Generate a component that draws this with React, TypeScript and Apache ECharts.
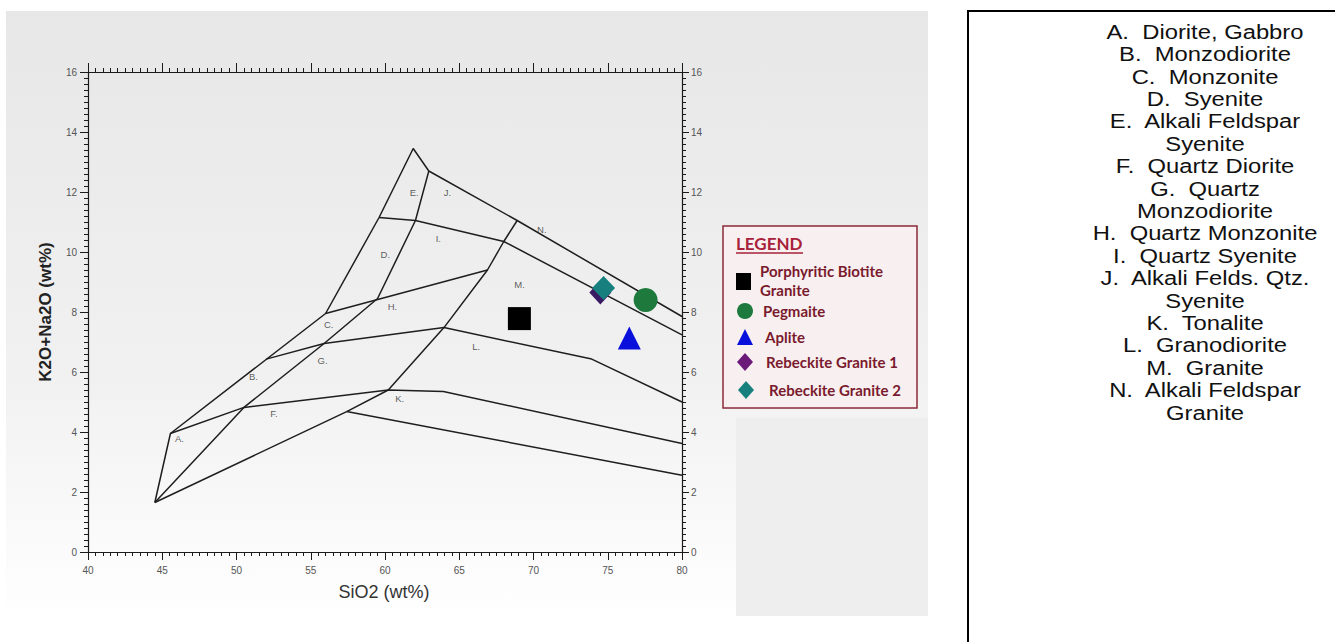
import React, { useEffect, useRef } from "react";
import * as echarts from "echarts";

// ---- Field boundaries (SiO2, K2O+Na2O) ----
const outerBoundary = [[44.5, 1.65], [45.55, 3.95], [56.0, 7.95], [59.6, 11.15], [61.9, 13.45], [62.95, 12.7], [68.9, 11.05], [80, 7.85]];
const dividerQ20 = [[62.95, 12.7], [62.05, 11.05], [59.5, 8.45], [55.9, 6.95], [50.5, 4.82], [44.5, 1.65]];
const dividerQ60 = [[68.9, 11.05], [68.0, 10.35], [66.9, 9.4], [63.97, 7.48], [60.22, 5.4], [57.42, 4.68], [44.5, 1.65]];
const lineDI = [[59.6, 11.15], [62.05, 11.05], [68.0, 10.35], [80, 7.24]];
const lineCH = [[56.0, 7.95], [66.9, 9.4]];
const lineBG = [[52.0, 6.43], [55.9, 6.95], [63.97, 7.48], [73.92, 6.43], [80, 5.0]];
const lineFK = [[45.55, 3.95], [50.5, 4.82], [60.22, 5.4], [63.93, 5.35], [80, 3.62]];
const lineLower = [[57.42, 4.68], [80, 2.56]];
const boundaries = [outerBoundary, dividerQ20, dividerQ60, lineDI, lineCH, lineBG, lineFK, lineLower];

// ---- Field labels ----
const regionNames = ["A.", "B.", "C.", "D.", "E.", "F.", "G.", "H.", "I.", "J.", "K.", "L.", "M.", "N."];
const regionSiO2 = [46.16, 51.14, 56.21, 60.02, 61.97, 52.52, 55.8, 60.5, 63.59, 64.2, 60.99, 66.14, 69.06, 70.56];
const regionAlk = [3.78, 5.86, 7.59, 9.91, 12.0, 4.61, 6.37, 8.18, 10.44, 12.0, 5.11, 6.85, 8.91, 10.75];

// ---- Samples ----
const sampleNames = ["Rebeckite Granite 1", "Porphyritic Biotite Granite", "Pegmaite", "Aplite", "Rebeckite Granite 2"];
const sampleSiO2 = [74.5, 69.05, 77.55, 76.45, 74.72];
const sampleAlk = [8.65, 7.78, 8.4, 7.13, 8.8];
const sampleSymbols = ["diamond", "rect", "circle", "triangle", "diamond"];
const sampleSizes = [[22, 24], 23, 24, 23, [23, 24]];
const sampleColors = ["#3a1a62", "#000000", "#1e7a3c", "#0a10dc", "#17807f"];

// ---- Axis ----
const xMin = 40, xMax = 80, xStep = 5;
const yMin = 0, yMax = 16, yStep = 2;

// ---- Classification text ----
const rockNames = [
  "A.  Diorite, Gabbro", "B.  Monzodiorite", "C.  Monzonite", "D.  Syenite",
  "E.  Alkali Feldspar", "Syenite", "F.  Quartz Diorite", "G.  Quartz", "Monzodiorite",
  "H.  Quartz Monzonite", "I.  Quartz Syenite", "J.  Alkali Felds. Qtz.", "Syenite",
  "K.  Tonalite", "L.  Granodiorite", "M.  Granite", "N.  Alkali Feldspar", "Granite",
];

const legendLabels = ["Porphyritic Biotite", "Granite", "Pegmaite", "Aplite", "Rebeckite Granite 1", "Rebeckite Granite 2"];

export default function App() {
  const ref = useRef<HTMLDivElement>(null);
  useEffect(() => {
    if (!ref.current) return;
    const chart = echarts.init(ref.current, undefined, { renderer: "svg" });
    const axisColor = "#1a1a1a";
    const tickFont = { color: "#555", fontSize: 10, fontFamily: "Liberation Sans, Arial, sans-serif" };
    const xAxisBase = {
      type: "value", min: xMin, max: xMax, interval: xStep,
      axisLine: { show: true, onZero: false, lineStyle: { color: axisColor, width: 1.2 } },
      splitLine: { show: false }, minorSplitLine: { show: false },
    };
    const yAxisBase = {
      type: "value", min: yMin, max: yMax, interval: yStep,
      axisLine: { show: true, onZero: false, lineStyle: { color: axisColor, width: 1.2 } },
      splitLine: { show: false }, minorSplitLine: { show: false },
    };
    const lineSeries = boundaries.map((d, i) => ({
      type: "line", name: "field" + i, data: d, showSymbol: false, symbol: "none",
      lineStyle: { color: "#1e1e1e", width: 1.5 }, silent: true, z: 3,
    }));
    const labelSeries = {
      type: "scatter", name: "fields", symbolSize: 1, silent: true, z: 4,
      itemStyle: { color: "transparent" },
      data: regionNames.map((n, i) => ({ name: n, value: [regionSiO2[i], regionAlk[i]] })),
      label: { show: true, position: "inside", formatter: "{b}", fontSize: 9.5, color: "#333333",
        textBorderWidth: 0, textBorderColor: "transparent", fontFamily: "Liberation Sans, Arial, sans-serif" },
    };
    const sampleSeries = sampleNames.map((n, i) => ({
      type: "scatter", name: n, symbol: sampleSymbols[i], symbolSize: sampleSizes[i], z: 5 + i,
      itemStyle: { color: sampleColors[i], opacity: 1 },
      data: [[sampleSiO2[i], sampleAlk[i]]],
    }));

    const legendFont = { fontFamily: "Lato, Liberation Sans, sans-serif", fontWeight: "bold", fontSize: 15, fill: "#7a1a2e" };
    const legendRows = [
      { t: legendLabels[0], x: 760, y: 271 }, { t: legendLabels[1], x: 760, y: 290 },
      { t: legendLabels[2], x: 763, y: 311 }, { t: legendLabels[3], x: 765, y: 337 },
      { t: legendLabels[4], x: 766, y: 362 }, { t: legendLabels[5], x: 769, y: 390 },
    ];

    const option = {
      animation: false,
      backgroundColor: "#ffffff",
      grid: { left: 88, right: 653, top: 72, bottom: 90, containLabel: false },
      xAxis: [
        { ...xAxisBase, position: "bottom",
          axisTick: { show: true, inside: false, length: 8, lineStyle: { color: axisColor } },
          minorTick: { show: true, splitNumber: 10, length: 4, lineStyle: { color: axisColor } },
          axisLabel: { ...tickFont, margin: 13 } },
        { ...xAxisBase, position: "top",
          axisTick: { show: true, inside: false, length: 9, lineStyle: { color: axisColor } },
          minorTick: { show: true, splitNumber: 10, length: 4, lineStyle: { color: axisColor } },
          axisLabel: { show: false } },
      ],
      yAxis: [
        { ...yAxisBase, position: "left",
          axisTick: { show: true, inside: false, length: 8, lineStyle: { color: axisColor } },
          minorTick: { show: true, splitNumber: 10, length: 4, lineStyle: { color: axisColor } },
          axisLabel: { ...tickFont, margin: 11 } },
        { ...yAxisBase, position: "right",
          axisTick: { show: true, inside: false, length: 7, lineStyle: { color: axisColor } },
          minorTick: { show: true, splitNumber: 10, length: 4, lineStyle: { color: axisColor } },
          axisLabel: { ...tickFont, margin: 9 } },
      ],
      series: [...lineSeries, labelSeries, ...sampleSeries],
      graphic: [
        { type: "rect", z: -20, silent: true, shape: { x: 6, y: 11, width: 922, height: 611 },
          style: { fill: { type: "linear", x: 0, y: 0, x2: 0, y2: 1, colorStops: [{ offset: 0, color: "#e7e7e7" }, { offset: 0.6, color: "#f1f1f1" }, { offset: 1, color: "#ffffff" }] } } },
        { type: "rect", z: -19, silent: true, shape: { x: 736, y: 418, width: 192, height: 198 }, style: { fill: "#eeeeee" } },
        // axis names
        { type: "text", z: 50, x: 384, y: 592, style: { text: "SiO2 (wt%)", fontSize: 18, fill: "#333", fontFamily: "Liberation Sans, Arial, sans-serif", textAlign: "center", textVerticalAlign: "middle" } },
        { type: "text", z: 50, x: 45, y: 312, rotation: Math.PI / 2, style: { text: "K2O+Na2O (wt%)", fontSize: 17, fontWeight: "bold", fill: "#222", fontFamily: "Liberation Sans, Arial, sans-serif", textAlign: "center", textVerticalAlign: "middle" } },
        // legend box
        { type: "rect", z: 100, shape: { x: 723, y: 226, width: 194, height: 182 }, style: { fill: "#f8f0f0", stroke: "#8a2a38", lineWidth: 1.5 } },
        { type: "text", z: 101, x: 736, y: 243, style: { text: "LEGEND", fontSize: 17, fontWeight: "bold", fill: "#a8203a", fontFamily: "Lato, Liberation Sans, sans-serif", textVerticalAlign: "middle" } },
        { type: "line", z: 101, shape: { x1: 736, y1: 253, x2: 803, y2: 253 }, style: { stroke: "#a8203a", lineWidth: 1.3 } },
        { type: "rect", z: 101, shape: { x: 736, y: 273, width: 15, height: 17 }, style: { fill: "#000" } },
        { type: "circle", z: 101, shape: { cx: 745, cy: 311, r: 8 }, style: { fill: "#1e7a3c" } },
        { type: "polygon", z: 101, shape: { points: [[737, 345], [753, 345], [745, 329]] }, style: { fill: "#0a10dc" } },
        { type: "polygon", z: 101, shape: { points: [[745, 353], [753, 362], [745, 371], [737, 362]] }, style: { fill: "#6b1a7a" } },
        { type: "polygon", z: 101, shape: { points: [[746, 381], [754, 390], [746, 399], [738, 390]] }, style: { fill: "#17807f" } },
        ...legendRows.map((r) => ({ type: "text", z: 101, x: r.x, y: r.y, style: { ...legendFont, text: r.t, textVerticalAlign: "middle" } })),
        // right classification box
        { type: "rect", z: 100, shape: { x: 968, y: 11, width: 420, height: 700 }, style: { fill: "#ffffff", stroke: "#000", lineWidth: 2 } },
        { type: "group", z: 101, x: 1205, y: 0, scaleX: 1.19, scaleY: 1,
          children: rockNames.map((t, i) => ({ type: "text", z: 101, x: 0, y: 32 + i * 22.4,
            style: { text: t, fontSize: 20, fill: "#111", fontFamily: "Liberation Sans, Arial, sans-serif", textAlign: "center", textVerticalAlign: "middle" } })) },
      ],
    };
    chart.setOption(option as any);
    return () => chart.dispose();
  }, []);
  return <div ref={ref} style={{ position: "absolute", left: 0, top: 0, width: 1335, height: 642 }} />;
}
